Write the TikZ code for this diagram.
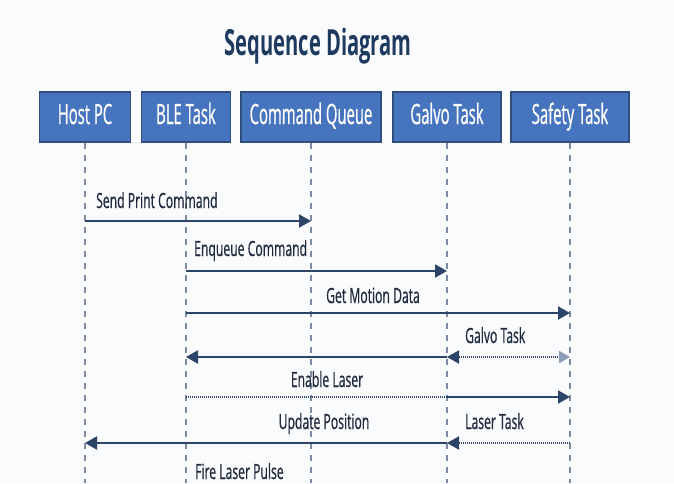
\documentclass[tikz,border=0pt]{standalone}
\usepackage{fontspec}
\setmainfont[FakeStretch=0.58,FakeBold=0.6]{Open Sans}
\newfontfamily\boxfont[FakeStretch=0.53,FakeBold=0.6]{Open Sans}
\newfontfamily\titlefont[FakeStretch=0.56]{Open Sans}
\usetikzlibrary{arrows.meta}
\definecolor{bg}{HTML}{FAFBFC}
\definecolor{boxfill}{HTML}{4674BE}
\definecolor{boxedge}{HTML}{2F4E7E}
\definecolor{navy}{HTML}{2C4468}
\definecolor{life}{HTML}{7C8CA3}
\definecolor{labelc}{HTML}{1E2B3E}
\definecolor{titlec}{HTML}{1F3A5F}
\definecolor{faded}{HTML}{8A9CB8}
\begin{document}
\begin{tikzpicture}[x=1pt,y=-1pt,
  actor/.style={draw=boxedge, line width=1.4pt, fill=boxfill, minimum height=50pt,
    inner sep=0pt, text=white, font=\boxfont\fontsize{28}{30}\selectfont,
    text height=20pt, text depth=6pt},
  lifeline/.style={draw=life, line width=1.1pt, dash pattern=on 6pt off 6pt},
  msg/.style={draw=navy, line width=2pt, -{Triangle[length=12pt,width=13pt]}},
  dots/.style={draw=navy, line width=2pt, dash pattern=on 1.2pt off 0.8pt},
  lbl/.style={text=labelc, font=\fontsize{21}{24}\selectfont, inner sep=0pt}
]
\useasboundingbox (0,0) rectangle (674,483);
\fill[bg] (0,0) rectangle (674,483);

\node[text=titlec, font=\titlefont\bfseries\fontsize{36}{40}\selectfont, anchor=base, inner sep=0pt] (title) at (318,55) {Sequence Diagram};

\node[actor, minimum width=91pt]  (host)   at (85,117)  {Host PC};
\node[actor, minimum width=89pt]  (ble)    at (186,117) {BLE Task};
\node[actor, minimum width=140pt] (cq)     at (311,117) {Command Queue};
\node[actor, minimum width=108pt] (galvo)  at (447,117) {Galvo Task};
\node[actor, minimum width=118pt] (safety) at (570,117) {Safety Task};

\coordinate (hostend)   at (host.south |- 0,483);
\coordinate (bleend)    at (ble.south |- 0,483);
\coordinate (cqend)     at (cq.south |- 0,483);
\coordinate (galvoend)  at (galvo.south |- 0,483);
\coordinate (safetyend) at (safety.south |- 0,483);
\draw[lifeline] (host.south) -- (hostend);
\draw[lifeline] (ble.south) -- (bleend);
\draw[lifeline] (cq.south) -- (cqend);
\draw[lifeline] (galvo.south) -- (galvoend);
\draw[lifeline] (safety.south) -- (safetyend);

% 1 Send Print Command
\draw[msg] (host.south |- 0,221) -- (cq.south |- 0,221);
\node[lbl, anchor=base west] (l1) at (96,208) {Send Print Command};

% 2 Enqueue Command
\draw[msg] (ble.south |- 0,271) -- (galvo.south |- 0,271);
\node[lbl, anchor=base west] (l2) at (194,256) {Enqueue Command};

% 3 Get Motion Data
\draw[msg] (ble.south |- 0,313) -- (safety.south |- 0,313);
\node[lbl, anchor=base] (l3) at (373,303) {Get Motion Data};

% 4 Galvo Task
\draw[msg] (galvo.south |- 0,357) -- (ble.south |- 0,357);
\draw[dots, {Triangle[length=12pt,width=13pt,fill=navy]}-{Triangle[length=11pt,width=12pt,fill=faded,color=faded]}] (galvo.south |- 0,357) -- (safety.south |- 0,357);
\node[lbl, anchor=base west] (l4) at (465,343) {Galvo Task};

% 5 Enable Laser
\draw[dots] (ble.south |- 0,397) -- (galvo.south |- 0,397);
\draw[msg] (galvo.south |- 0,397) -- (safety.south |- 0,397);
\node[lbl, anchor=base] (l5) at (327,387) {Enable Laser};

% 6 Update Position / Laser Task
\draw[dots, -{Triangle[length=12pt,width=13pt]}] (safety.south |- 0,443) -- (galvo.south |- 0,443);
\draw[msg] (galvo.south |- 0,443) -- (host.south |- 0,443);
\node[lbl, anchor=base] (l6) at (324,429) {Update Position};
\node[lbl, anchor=base west] (l7) at (465,429) {Laser Task};

% 7 Fire Laser Pulse
\node[lbl, anchor=base west] (l8) at (195,479) {Fire Laser Pulse};
\end{tikzpicture}
\end{document}
